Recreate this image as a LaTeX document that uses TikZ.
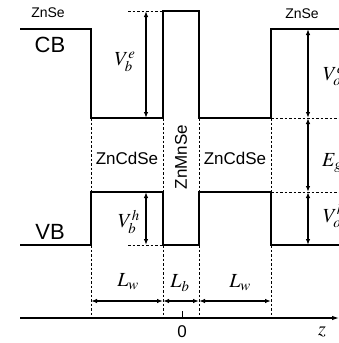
\documentclass[tikz,border=0pt]{standalone}
\usepackage{mathptmx}
\usepackage[no-math]{fontspec}
\setmainfont{Liberation Sans}
\usetikzlibrary{arrows.meta}

\begin{document}
\begin{tikzpicture}[x=1pt, y=-1pt,
  band/.style={line width=2pt, line join=miter},
  dim/.style={{Latex[length=6pt,width=4.5pt]}-{Latex[length=6pt,width=4.5pt]}, line width=1.2pt},
  guide/.style={dash pattern=on 2.5pt off 2pt, line width=0.6pt},
  axis/.style={-{Latex[length=7pt,width=4.5pt]}, line width=1.1pt},
  lab/.style={inner sep=0pt, font=\fontsize{14}{16}\selectfont},
  mat/.style={inner sep=0pt, font=\fontsize{17}{19}\selectfont},
  big/.style={inner sep=0pt, font=\fontsize{22}{24}\selectfont},
  sym/.style={inner sep=0pt, font=\fontsize{20}{22}\selectfont}]
\useasboundingbox (0,0) rectangle (339,343);
% band edges
\draw[band] (20,29) -- (91,29) -- (91,118) -- (163,118) -- (163,11) -- (199,11)
  -- (199,118) -- (271,118) -- (271,29) -- (339,29);
\draw[band] (20,245) -- (91,245) -- (91,192) -- (163,192) -- (163,245) -- (199,245)
  -- (199,192) -- (271,192) -- (271,245) -- (339,245);
% interfaces
\foreach \x in {91,163,199,271} {
  \draw[guide] (\x,118) -- (\x,192);
  \draw[guide] (\x,245) -- (\x,318);
}
\draw[guide] (128,11) -- (163,11);
\draw[guide] (128,245) -- (163,245);
\draw[guide] (271,118) -- (339,118);
\draw[guide] (271,192) -- (339,192);
% offsets
\coordinate (bet) at (146,11);
\coordinate (beb) at (146,118);
\coordinate (bht) at (146,192);
\coordinate (bhb) at (146,245);
\coordinate (oc) at (308,29);
\coordinate (ow) at (308,118);
\coordinate (ov) at (308,192);
\coordinate (ob) at (308,245);
\draw[dim] (bet) -- (beb);
\draw[dim] (bht) -- (bhb);
\draw[dim] (oc) -- (ow);
\draw[dim] (ow) -- (ov);
\draw[dim] (ov) -- (ob);
% widths
\coordinate (l1) at (91,301);
\coordinate (l2) at (163,301);
\coordinate (l3) at (199,301);
\coordinate (l4) at (271,301);
\draw[dim] (l1) -- (l2);
\draw[dim] (l2) -- (l3);
\draw[dim] (l3) -- (l4);
% z axis
\coordinate (zs) at (20,318);
\coordinate (ze) at (339,318);
\draw[axis] (zs) -- (ze);
\coordinate (t0) at (182,318);
\draw[line width=0.8pt] (t0) -- ++(0,-7);
% labels
\node[lab] (znsel) at (48,13) {ZnSe};
\node[lab] (znser) at (302,14) {ZnSe};
\node[big] (cb) at (50,45) {CB};
\node[big] (vb) at (50,232) {VB};
\node[mat] (cdsel) at (127,158) {ZnCdSe};
\node[mat] (cdser) at (235,158) {ZnCdSe};
\node[mat, rotate=90] (mnse) at (181,157) {ZnMnSe};
\node[sym] (vbe) at (125,62) {$V_b^e$};
\node[sym] (vbh) at (129,222) {$V_b^h$};
\node[sym, anchor=west] (voe) at (323,76) {$V_o^e$};
\node[sym, anchor=west] (eg) at (322,163) {$E_g$};
\node[sym, anchor=west] (voh) at (323,216) {$V_o^h$};
\node[sym] (lwl) at (128,282) {$L_w$};
\node[sym] (lb) at (180,283) {$L_b$};
\node[sym] (lwr) at (240,283) {$L_w$};
\node[mat] (zero) at (182,332) {0};
\node[sym] (zz) at (322,332) {$z$};
\end{tikzpicture}
\end{document}
